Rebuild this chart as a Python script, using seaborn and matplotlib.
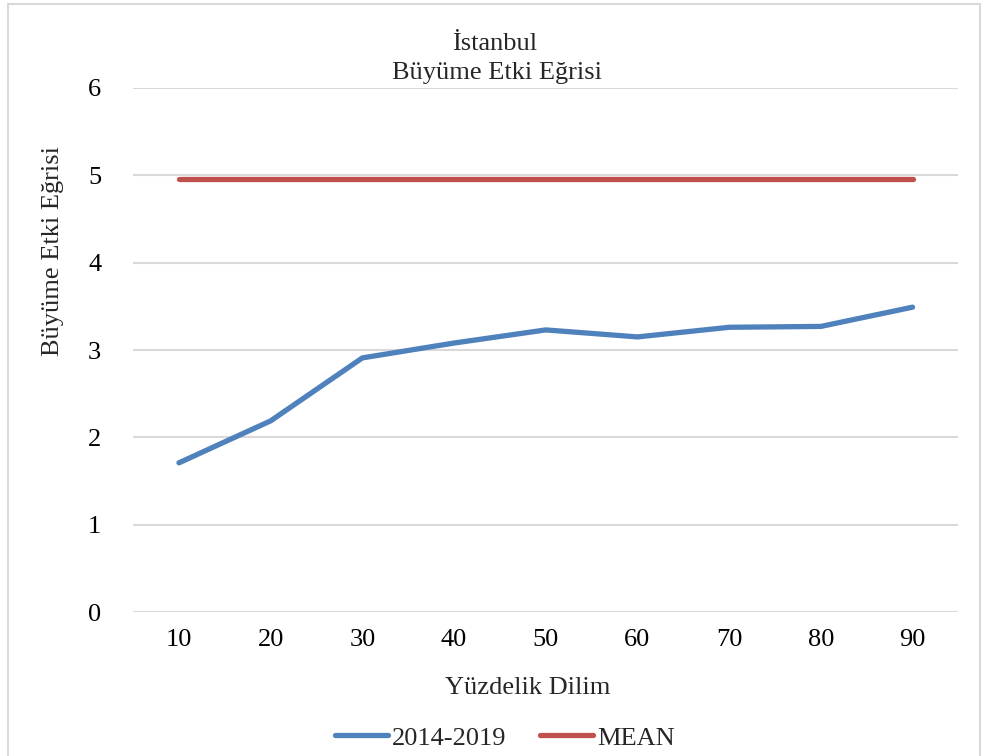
import pandas as pd
import matplotlib.pyplot as plt
import seaborn as sns
from matplotlib.patches import Rectangle
from matplotlib.lines import Line2D

# Chart data
percentiles = ["10", "20", "30", "40", "50", "60", "70", "80", "90"]
growth_2014_2019 = [1.71, 2.19, 2.91, 3.08, 3.23, 3.15, 3.26, 3.27, 3.49]
mean_value = [4.96] * len(percentiles)

sns.set_theme(style="white")
plt.rcParams['font.family'] = ['Liberation Serif', 'DejaVu Serif']

df = pd.DataFrame({
    "pct": percentiles * 2,
    "value": growth_2014_2019 + mean_value,
    "series": ["2014-2019"] * len(percentiles) + ["MEAN"] * len(percentiles),
})

fig = plt.figure(figsize=(9.86, 7.56), dpi=100)
ax = fig.add_axes([0.135, 0.190, 0.837, 0.694])

sns.lineplot(data=df, x="pct", y="value", hue="series",
             palette={"2014-2019": "#4F81BD", "MEAN": "#C0504D"},
             linewidth=3.8, legend=False, ax=ax, sort=False)

ax.set_xlim(-0.5, 8.5)
ax.set_ylim(0, 6)
ax.set_yticks(range(0, 7))
ax.yaxis.grid(True, color="#d9d9d9", linewidth=1.5)
ax.set_axisbelow(True)
for s in ax.spines.values():
    s.set_visible(False)
ax.tick_params(axis="both", length=0, labelsize=19, colors="black")
ax.tick_params(axis="y", pad=23)
ax.tick_params(axis="x", pad=12)
ax.set_xlabel("")
ax.set_ylabel("")

fig.text(0.502, 0.942, "İstanbul", ha="center", va="center", fontsize=19)
fig.text(0.504, 0.903, "Büyüme Etki Eğrisi", ha="center", va="center", fontsize=19)
fig.text(0.054, 0.668, "Büyüme Etki Eğrisi", rotation=90, ha="center", va="center", fontsize=19)
fig.text(0.535, 0.090, "Yüzdelik Dilim", ha="center", va="center", fontsize=19)

# Legend
handles = [Line2D([0], [0], color="#4F81BD", lw=3.8, solid_capstyle="round"),
           Line2D([0], [0], color="#C0504D", lw=3.8, solid_capstyle="round")]
fig.legend(handles, ["2014-2019", "MEAN"], loc="center", bbox_to_anchor=(0.512, 0.024),
           ncol=2, frameon=False, fontsize=19, handlelength=2.0, handletextpad=0.15,
           columnspacing=1.3)

# Outer chart border
fig.patches.append(Rectangle((0.008, -0.01), 0.986, 1.005, transform=fig.transFigure,
                             fill=False, edgecolor="#d9d9d9", linewidth=1.5))

fig.savefig("out.png", dpi=100)
